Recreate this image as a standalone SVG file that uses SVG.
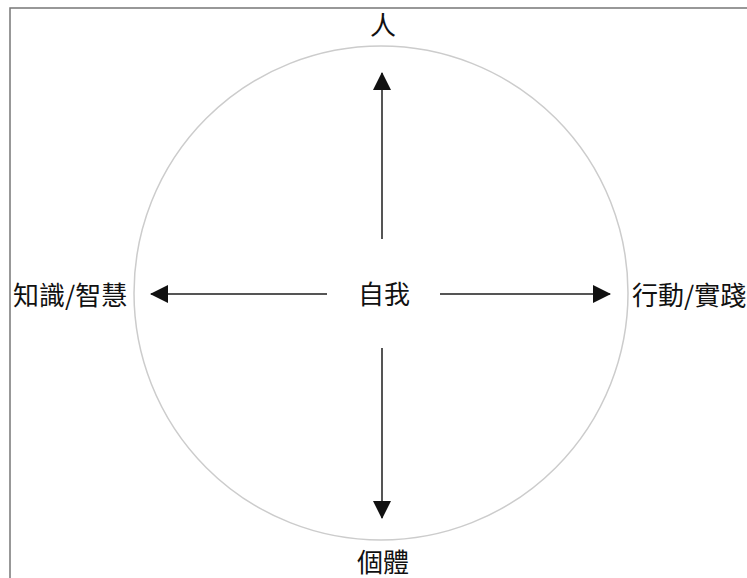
<svg xmlns="http://www.w3.org/2000/svg" width="747" height="578" viewBox="0 0 747 578">
<style>
.lbl{font-family:"Noto Sans CJK TC","Noto Sans CJK SC",sans-serif;font-size:26px;fill:#111;}
.ln{stroke:#555;stroke-width:2;fill:none;}
</style>
<defs>
<marker id="ah" viewBox="0 0 18 18" refX="17" refY="9" markerWidth="18" markerHeight="18" markerUnits="userSpaceOnUse" orient="auto">
<path d="M0,0 L18,9 L0,18 Z" fill="#111"/>
</marker>
</defs>
<rect x="0" y="0" width="747" height="578" fill="#fff"/>
<rect x="10" y="8" width="760" height="600" fill="none" stroke="#777" stroke-width="1.5"/>
<circle cx="381" cy="293" r="247" fill="none" stroke="#ccc" stroke-width="1.5"/>
<g id="connectors">
<line class="ln" x1="382" y1="239" x2="382" y2="73" marker-end="url(#ah)"/>
<line class="ln" x1="382" y1="348" x2="382" y2="518" marker-end="url(#ah)"/>
<line class="ln" x1="327" y1="294" x2="151" y2="294" marker-end="url(#ah)"/>
<line class="ln" x1="440" y1="294" x2="610" y2="294" marker-end="url(#ah)"/>
</g>
<g id="self"><text class="lbl" x="384" y="304" text-anchor="middle">自我</text></g>
<g id="person"><text class="lbl" x="383" y="35" text-anchor="middle">人</text></g>
<g id="knowledge"><text class="lbl" x="13" y="305">知識/智慧</text></g>
<g id="action"><text class="lbl" x="632" y="305">行動/實踐</text></g>
<g id="individual"><text class="lbl" x="383" y="572" text-anchor="middle">個體</text></g>
</svg>
